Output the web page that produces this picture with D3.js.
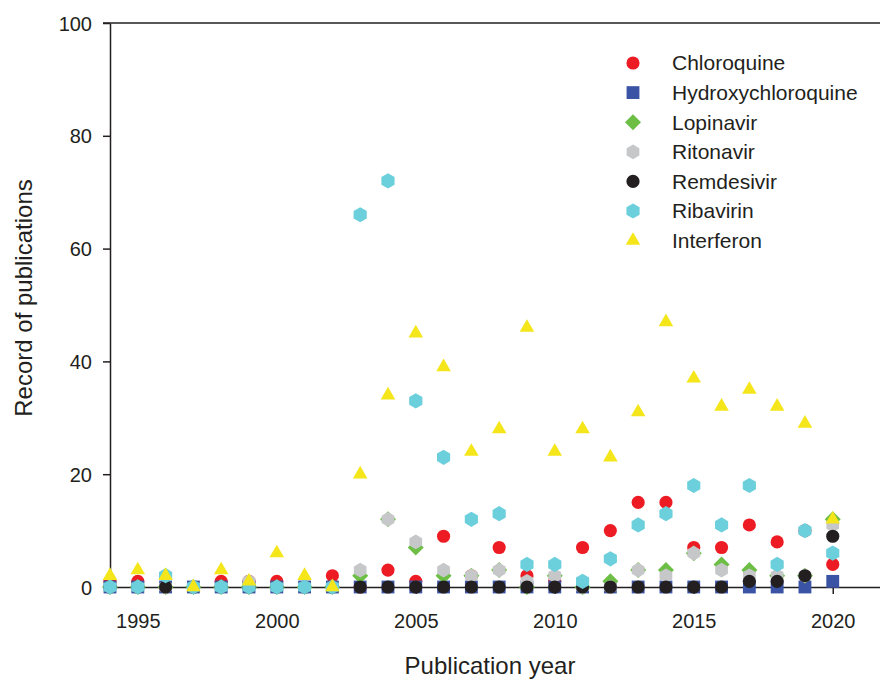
<!DOCTYPE html>
<html>
<head>
<meta charset="utf-8">
<script src="https://cdn.jsdelivr.net/npm/d3@7"></script>
<style>
  body { margin: 0; background: #fff; }
  svg text { font-family: "Liberation Sans", Arial, sans-serif; fill: #231f20; }
</style>
</head>
<body>
<div id="chart"></div>
<script>
// publication counts per year, 1994 - 2020
var years = d3.range(1994, 2021);
var seriesNames = ["Chloroquine", "Hydroxychloroquine", "Lopinavir", "Ritonavir", "Remdesivir", "Ribavirin", "Interferon"];

var chloroquine        = [1,1,0,0,1,1,1,0,2,0,3,1,9,2,7,2,1,7,10,15,15,7,7,11,8,10,4];
var hydroxychloroquine = [0,0,0,0,0,0,0,0,0,0,0,0,0,0,0,0,0,0,0,0,0,0,0,0,0,0,1];
var lopinavir          = [0,0,0,0,0,0,0,0,0,2,12,7,2,2,3,0,2,0,1,3,3,6,4,3,2,2,12];
var ritonavir          = [0,0,0,0,0,1,0,0,0,3,12,8,3,2,3,1,2,0,0,3,2,6,3,2,2,2,11];
var remdesivir         = [0,0,0,0,0,0,0,0,0,0,0,0,0,0,0,0,0,0,0,0,0,0,0,1,1,2,9];
var ribavirin          = [0,0,2,0,0,0,0,0,0,66,72,33,23,12,13,4,4,1,5,11,13,18,11,18,4,10,6];
var interferon         = [2,3,2,0,3,1,6,2,0,20,34,45,39,24,28,46,24,28,23,31,47,37,32,35,32,29,12];

var xTicks = [1995, 2000, 2005, 2010, 2015, 2020];
var yTicks = [0, 20, 40, 60, 80, 100];

var W = 880, H = 679;
var margin = { top: 23, right: 0, bottom: 92, left: 110 };

// pointy-top hexagon
var symbolHexagon = {
  draw: function (ctx, size) {
    var r = Math.sqrt(size / (1.5 * Math.sqrt(3)));
    for (var i = 0; i < 6; i++) {
      var a = Math.PI / 3 * i - Math.PI / 2;
      if (i === 0) ctx.moveTo(r * Math.cos(a), r * Math.sin(a));
      else ctx.lineTo(r * Math.cos(a), r * Math.sin(a));
    }
    ctx.closePath();
  }
};

var styles = [
  { type: d3.symbolCircle,   size: 136, color: "#ed1c24", rot: 0 },
  { type: d3.symbolSquare,   size: 165, color: "#3a53a4", rot: 0 },
  { type: d3.symbolSquare,   size: 128, color: "#6cbe45", rot: 45 },
  { type: symbolHexagon,     size: 140, color: "#c6c7c9", rot: 0 },
  { type: d3.symbolCircle,   size: 136, color: "#231f20", rot: 0 },
  { type: symbolHexagon,     size: 150, color: "#6ccfdc", rot: 0 },
  { type: d3.symbolTriangle, size: 92,  color: "#f4e61a", rot: 0 }
];

var values = [chloroquine, hydroxychloroquine, lopinavir, ritonavir, remdesivir, ribavirin, interferon];
var series = seriesNames.map(function (name, i) {
  return { name: name, style: styles[i], values: values[i].map(function (v, j) { return { year: years[j], value: v }; }) };
});

var x = d3.scaleLinear().domain([1994, 2021.7]).range([margin.left, W - margin.right]);
var y = d3.scaleLinear().domain([0, 100]).range([H - margin.bottom, margin.top]);

var svg = d3.select("#chart").append("svg")
    .attr("width", W)
    .attr("height", H);

// top frame line
svg.append("line")
    .attr("x1", margin.left - 7).attr("x2", W)
    .attr("y1", y(100)).attr("y2", y(100))
    .attr("stroke", "#231f20").attr("stroke-width", 1.5);

var xAxis = svg.append("g")
    .attr("transform", "translate(0," + y(0) + ")")
    .call(d3.axisBottom(x).tickValues(xTicks).tickFormat(d3.format("d")).tickSize(7).tickPadding(20).tickSizeOuter(0));

var yAxis = svg.append("g")
    .attr("transform", "translate(" + margin.left + ",0)")
    .call(d3.axisLeft(y).tickValues(yTicks).tickSize(7).tickPadding(11).tickSizeOuter(0));

[xAxis, yAxis].forEach(function (g) {
  g.select(".domain").attr("stroke", "#231f20").attr("stroke-width", 1.5);
  g.selectAll(".tick line").attr("stroke", "#231f20").attr("stroke-width", 1.5);
  g.selectAll(".tick text").style("font-size", "20px").attr("fill", "#231f20");
});
yAxis.selectAll(".tick text").attr("dy", "0.35em");

// markers, drawn in legend order
var layer = svg.append("g");
series.forEach(function (s) {
  var sym = d3.symbol().type(s.style.type).size(s.style.size);
  layer.append("g").attr("class", "series")
    .selectAll("path")
    .data(s.values)
    .enter().append("path")
      .attr("d", sym)
      .attr("fill", s.style.color)
      .attr("transform", function (d) {
        return "translate(" + x(d.year) + "," + y(d.value) + ") rotate(" + s.style.rot + ")";
      });
});

// legend
var legend = svg.append("g").attr("transform", "translate(633,63)");
var rows = legend.selectAll("g")
    .data(series)
    .enter().append("g")
      .attr("transform", function (d, i) { return "translate(0," + (i * 29.6) + ")"; });
rows.append("path")
    .attr("d", function (d) { return d3.symbol().type(d.style.type).size(d.style.size)(); })
    .attr("fill", function (d) { return d.style.color; })
    .attr("transform", function (d) { return "rotate(" + d.style.rot + ")"; });
rows.append("text")
    .attr("x", 39)
    .attr("y", 0)
    .attr("dy", "0.35em")
    .style("font-size", "21px")
    .text(function (d) { return d.name; });

// axis titles
svg.append("text")
    .attr("x", 490)
    .attr("y", 674)
    .attr("text-anchor", "middle")
    .style("font-size", "24px")
    .text("Publication year");

svg.append("text")
    .attr("transform", "translate(32,298) rotate(-90)")
    .attr("text-anchor", "middle")
    .style("font-size", "24px")
    .text("Record of publications");
</script>
</body>
</html>
